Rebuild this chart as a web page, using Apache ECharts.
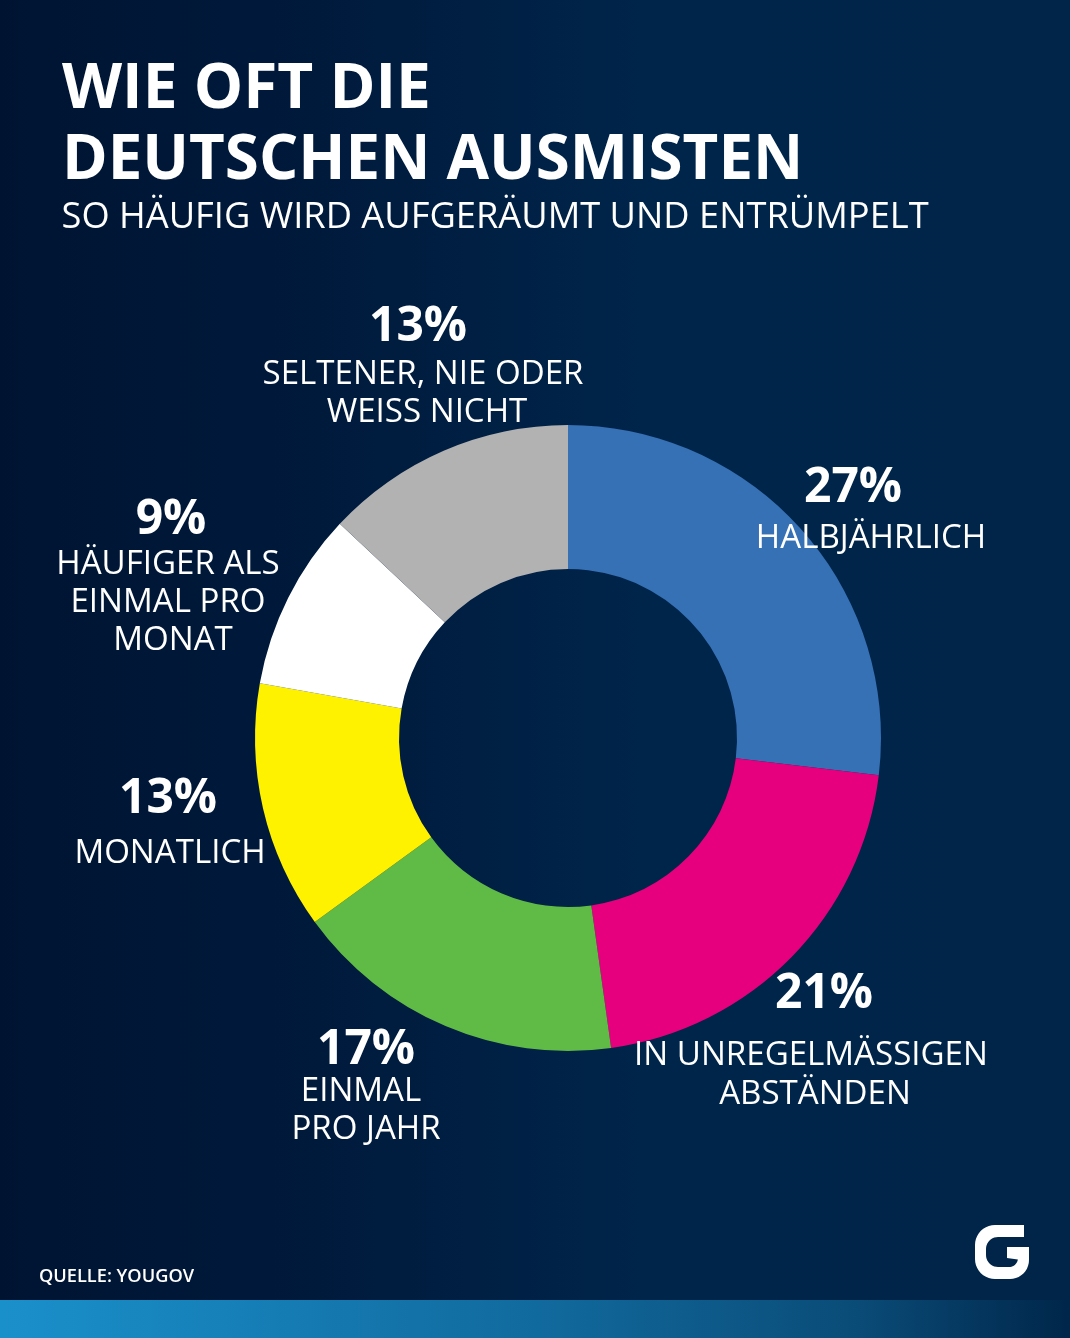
<!DOCTYPE html>
<html><head><meta charset="utf-8">
<style>html,body{margin:0;padding:0;background:#00264a}#c{width:1070px;height:1338px}</style>
<script src="https://cdn.jsdelivr.net/npm/echarts@6/dist/echarts.min.js"></script></head>
<body><div id="c"></div>
<script>
const categories=['HALBJÄHRLICH','IN UNREGELMÄSSIGEN ABSTÄNDEN','EINMAL PRO JAHR','MONATLICH','HÄUFIGER ALS EINMAL PRO MONAT','SELTENER, NIE ODER WEISS NICHT'];
const sliceValues=[26.9,20.9,17.2,12.8,9.2,13];
const percentLabels=['27%','21%','17%','13%','9%','13%'];
const colors=['#3670b5','#e6007e','#60bb46','#fff200','#ffffff','#b2b2b2'];
const titleLines=['WIE OFT DIE','DEUTSCHEN AUSMISTEN'];
const subtitle='SO HÄUFIG WIRD AUFGERÄUMT UND ENTRÜMPELT';
const source='QUELLE: YOUGOV';
const pctPos=[[853,485],[824,991],[366,1047],[168,796],[171,517],[418,324]];
const nameLines=[['HALBJÄHRLICH'],['IN UNREGELMÄSSIGEN','ABSTÄNDEN'],['EINMAL','PRO JAHR'],['MONATLICH'],['HÄUFIGER ALS','EINMAL PRO','MONAT'],['SELTENER, NIE ODER','WEISS NICHT']];
const namePos=[[[871,536]],[[811,1053],[815,1092]],[[361,1089],[366,1127]],[[170,851]],[[168,562],[168,600],[173,638]],[[423,372],[427,410]]];
const F='"Open Sans"';
const txt=(t,x,y,size,weight,align)=>({type:'text',z:10,x,y,style:{text:t,fill:'#fff',font:`${weight} ${size}px ${F}`,textAlign:align||'center',textVerticalAlign:'middle'}});
function arc(cx,cy,r,a0,a1){const o=[];for(let i=0;i<=10;i++){const a=(a0+(a1-a0)*i/10)*Math.PI/180;o.push([cx+r*Math.cos(a),cy+r*Math.sin(a)]);}return o;}
const logo=[[1024,1225],[1024,1237],...arc(998,1249,12,270,180),...arc(998,1255,12,180,90),...arc(1009,1258,9,90,10),[1007,1258],[1007,1247],[1029,1247],...arc(1010,1260,19,0,90),...arc(995,1259,20,90,180),...arc(995,1245,20,180,270)];
const g=[
 {type:'rect',z:-2,shape:{x:0,y:0,width:1070,height:1300},style:{fill:new echarts.graphic.LinearGradient(0,0,1,0,[{offset:0,color:'#001432'},{offset:.3,color:'#001a3c'},{offset:.6,color:'#00254a'},{offset:1,color:'#002549'}])}},
 {type:'rect',z:-2,shape:{x:0,y:1300,width:1070,height:38},style:{fill:new echarts.graphic.LinearGradient(0,0,1,0,[{offset:0,color:'#1a90cb'},{offset:.5,color:'#116a9e'},{offset:.8,color:'#0a4c78'},{offset:1,color:'#00264a'}])}},
 txt(titleLines[0],62,90,62.2,700,'left'),
 txt(titleLines[1],62,161,61.8,700,'left'),
 txt(subtitle,61.5,218,36.25,400,'left'),
 txt(source,39,1277,18.2,600,'left'),
 {type:'polygon',z:10,shape:{points:logo},style:{fill:'#fff'}}
];
percentLabels.forEach((p,i)=>{
 g.push(txt(p,pctPos[i][0],pctPos[i][1]+3,48,700));
 nameLines[i].forEach((l,j)=>g.push(txt(l,namePos[i][j][0],namePos[i][j][1]+3,33.1,500)));
});
const chart=echarts.init(document.getElementById('c'),null,{renderer:'canvas',width:1070,height:1338});
chart.setOption({
 animation:false,
 graphic:{elements:g},
 series:[{type:'pie',center:[568,738],radius:[169,313],startAngle:90,clockwise:true,silent:true,
  label:{show:false},labelLine:{show:false},
  data:categories.map((c,i)=>({name:c,value:sliceValues[i],itemStyle:{color:colors[i]}}))}]
});
</script></body></html>
